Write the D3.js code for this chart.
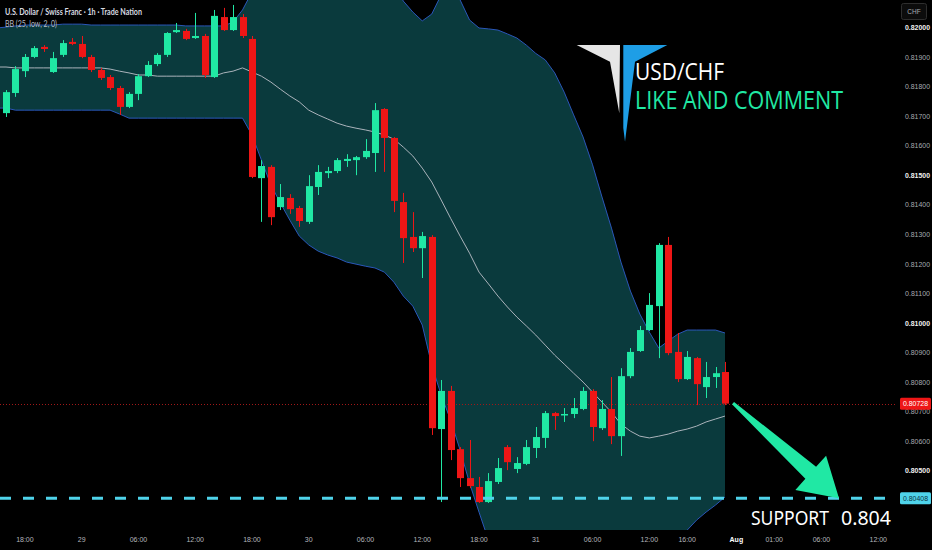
<!DOCTYPE html>
<html><head><meta charset="utf-8">
<script src="https://cdn.jsdelivr.net/npm/d3@7"></script>
<style>html,body{margin:0;padding:0;background:#000;overflow:hidden}</style>
</head><body>
<svg id="c" width="932" height="550"></svg>
<script>
// ---- Data (USD/CHF 1h candles) ----
const candleOpen  = [0.81711,0.81779,0.81853,0.81901,0.81935,0.81850,0.81908,0.81952,0.81945,0.81901,0.81857,0.81833,0.81796,0.81732,0.81776,0.81836,0.81877,0.81908,0.81985,0.81989,0.81965,0.81972,0.81833,0.82036,0.81992,0.82036,0.81962,0.81491,0.81529,0.81393,0.81424,0.81390,0.81343,0.81461,0.81508,0.81515,0.81549,0.81552,0.81562,0.81576,0.81725,0.81627,0.81410,0.81292,0.81254,0.81292,0.80642,0.80771,0.80574,0.80476,0.80446,0.80395,0.80463,0.80581,0.80507,0.80524,0.80578,0.80612,0.80696,0.80689,0.80693,0.80710,0.80771,0.80645,0.80710,0.80618,0.80821,0.80906,0.80977,0.81058,0.81265,0.80903,0.80811,0.80882,0.80784,0.80818,0.80835];
const candleHigh  = [0.81789,0.81870,0.81911,0.81938,0.81941,0.81918,0.81958,0.81965,0.81972,0.81908,0.81864,0.81840,0.81803,0.81782,0.81843,0.81887,0.81914,0.81985,0.82016,0.81996,0.82050,0.81979,0.82060,0.82067,0.82077,0.82046,0.81972,0.81552,0.81535,0.81471,0.81437,0.81397,0.81501,0.81535,0.81529,0.81559,0.81572,0.81566,0.81623,0.81745,0.81728,0.81630,0.81441,0.81376,0.81309,0.81298,0.80808,0.80788,0.80581,0.80605,0.80480,0.80493,0.80544,0.80588,0.80547,0.80605,0.80649,0.80703,0.80700,0.80713,0.80747,0.80784,0.80777,0.80740,0.80818,0.80848,0.80916,0.80991,0.81102,0.81271,0.81292,0.80967,0.80906,0.80886,0.80869,0.80852,0.80869];
const candleLow   = [0.81698,0.81766,0.81833,0.81897,0.81918,0.81847,0.81901,0.81941,0.81897,0.81850,0.81823,0.81789,0.81705,0.81728,0.81755,0.81833,0.81870,0.81901,0.81982,0.81958,0.81962,0.81830,0.81830,0.81989,0.81989,0.81965,0.81491,0.81343,0.81332,0.81383,0.81370,0.81326,0.81336,0.81434,0.81491,0.81508,0.81529,0.81501,0.81556,0.81512,0.81512,0.81376,0.81204,0.81241,0.81153,0.80622,0.80395,0.80537,0.80446,0.80442,0.80392,0.80392,0.80456,0.80503,0.80493,0.80520,0.80544,0.80578,0.80639,0.80666,0.80679,0.80706,0.80601,0.80639,0.80591,0.80551,0.80814,0.80903,0.80974,0.80882,0.80892,0.80801,0.80808,0.80723,0.80747,0.80781,0.80723];
const candleClose = [0.81782,0.81860,0.81901,0.81931,0.81928,0.81897,0.81948,0.81945,0.81901,0.81857,0.81830,0.81796,0.81732,0.81776,0.81836,0.81874,0.81908,0.81982,0.81992,0.81962,0.81972,0.81840,0.82040,0.81992,0.82036,0.81972,0.81495,0.81532,0.81359,0.81427,0.81386,0.81346,0.81464,0.81512,0.81515,0.81552,0.81556,0.81562,0.81583,0.81721,0.81627,0.81414,0.81288,0.81254,0.81295,0.80645,0.80771,0.80571,0.80476,0.80449,0.80395,0.80466,0.80510,0.80530,0.80527,0.80581,0.80615,0.80696,0.80686,0.80693,0.80713,0.80771,0.80649,0.80710,0.80618,0.80821,0.80903,0.80977,0.81062,0.81265,0.80899,0.80811,0.80886,0.80794,0.80818,0.80831,0.80728];

// Bollinger Bands (25, low, 2), starting one bar before the first visible candle
const bbFirstIndex = -1;
const bbUpper = [0.81999,0.82002,0.82006,0.82009,0.82009,0.82009,0.82009,0.82012,0.82012,0.82012,0.82009,0.82009,0.82009,0.82009,0.82009,0.82009,0.82009,0.82009,0.82009,0.82009,0.82006,0.82006,0.82006,0.82006,0.82006,0.82019,0.82060,0.82121,0.82178,0.82229,0.82263,0.82280,0.82280,0.82280,0.82280,0.82280,0.82280,0.82280,0.82280,0.82280,0.82263,0.82229,0.82144,0.82090,0.82053,0.82023,0.82046,0.82111,0.82128,0.82094,0.82026,0.81999,0.81996,0.81992,0.81979,0.81965,0.81941,0.81913,0.81891,0.81847,0.81782,0.81705,0.81630,0.81536,0.81427,0.81322,0.81207,0.81109,0.81031,0.80970,0.80916,0.80940,0.80963,0.80977,0.80977,0.80977,0.80977,0.80967];
const bbBasis = [0.81867,0.81867,0.81864,0.81864,0.81864,0.81864,0.81864,0.81864,0.81864,0.81864,0.81864,0.81864,0.81860,0.81853,0.81847,0.81840,0.81840,0.81836,0.81836,0.81836,0.81836,0.81836,0.81836,0.81836,0.81847,0.81853,0.81864,0.81850,0.81836,0.81816,0.81792,0.81769,0.81749,0.81721,0.81705,0.81691,0.81677,0.81667,0.81660,0.81654,0.81647,0.81637,0.81623,0.81596,0.81566,0.81525,0.81478,0.81417,0.81355,0.81295,0.81237,0.81173,0.81133,0.81092,0.81055,0.81021,0.80991,0.80960,0.80926,0.80892,0.80862,0.80831,0.80801,0.80767,0.80733,0.80699,0.80659,0.80635,0.80618,0.80612,0.80618,0.80625,0.80635,0.80642,0.80652,0.80666,0.80676,0.80686];
const bbLower = [0.81728,0.81728,0.81721,0.81721,0.81721,0.81721,0.81721,0.81721,0.81721,0.81721,0.81721,0.81721,0.81721,0.81708,0.81694,0.81694,0.81694,0.81694,0.81694,0.81694,0.81694,0.81694,0.81694,0.81694,0.81694,0.81694,0.81694,0.81637,0.81552,0.81468,0.81407,0.81349,0.81295,0.81265,0.81244,0.81231,0.81221,0.81207,0.81200,0.81193,0.81187,0.81173,0.81139,0.81092,0.81058,0.80994,0.80859,0.80757,0.80672,0.80571,0.80459,0.80361,0.80266,0.80199,0.80199,0.80199,0.80199,0.80199,0.80199,0.80199,0.80199,0.80199,0.80199,0.80199,0.80199,0.80199,0.80199,0.80199,0.80199,0.80199,0.80199,0.80199,0.80249,0.80300,0.80334,0.80361,0.80385,0.80412];

const priceTicks = [0.820,0.819,0.818,0.817,0.816,0.815,0.814,0.813,0.812,0.811,0.810,0.809,0.808,0.807,0.806,0.805];
const majorPriceTicks = [0.820,0.815,0.810,0.805];
const timeTickIndex = [2,8,14,20,26,32,38,44,50,56,62,68,72,77.2,81.2,86.2,92.2];
const timeTickLabels = ["18:00","29","06:00","12:00","18:00","30","06:00","12:00","18:00","31","06:00","12:00","16:00","Aug","01:00","06:00","12:00"];
const lastPrice = 0.80728;
const supportPrice = 0.80408;
const arrowTail = {i:76.85, p:0.80730};
const arrowTip  = {i:88.05, p:0.80408};

// ---- Layout ----
const W=932, H=550, plotR=897, plotB=530;
const GREEN="#20e8a4", RED="#ee1616", BAND="#0a3a3d", BANDLINE="#2a56b8", CYAN="#4fd3ea";
const svg=d3.select('#c');
svg.append('rect').attr('width',W).attr('height',H).attr('fill','#000');
svg.append('defs').append('clipPath').attr('id','plot')
  .append('rect').attr('x',0).attr('y',0).attr('width',plotR).attr('height',plotB);

const x=d3.scaleLinear().domain([0,76]).range([6,725]);
const y=d3.scaleLinear().domain([0.80,0.82]).range([618.8,27.7]);

const g=svg.append('g').attr('clip-path','url(#plot)');

const bb=bbUpper.map((u,k)=>({i:k+bbFirstIndex,u:u,m:bbBasis[k],l:bbLower[k]}));
g.append('path').datum(bb)
  .attr('d',d3.area().x(d=>x(d.i)).y0(d=>y(d.l)).y1(d=>y(d.u)))
  .attr('fill',BAND);
[['u',BANDLINE],['l',BANDLINE],['m','#aab3bb']].forEach(([k,col])=>{
  g.append('path').datum(bb)
    .attr('d',d3.line().x(d=>x(d.i)).y(d=>y(d[k])))
    .attr('fill','none').attr('stroke',col).attr('stroke-width',1);
});

// last price dotted line
g.append('line').attr('x1',0).attr('x2',plotR)
  .attr('y1',Math.round(y(lastPrice))+0.5).attr('y2',Math.round(y(lastPrice))+0.5)
  .attr('stroke','#a01818').attr('stroke-dasharray','1,2');

// candles
const candles=candleOpen.map((o,i)=>({i,o,h:candleHigh[i],l:candleLow[i],c:candleClose[i]}));
const cg=g.append('g');
cg.selectAll('line.w').data(candles).join('line').attr('class','w')
  .attr('x1',d=>Math.round(x(d.i))+0.5).attr('x2',d=>Math.round(x(d.i))+0.5)
  .attr('y1',d=>y(d.h)).attr('y2',d=>y(d.l))
  .attr('stroke',d=>d.c>=d.o?GREEN:RED).attr('stroke-width',1);
cg.selectAll('rect.b').data(candles).join('rect').attr('class','b')
  .attr('x',d=>Math.round(x(d.i))-3).attr('width',7)
  .attr('y',d=>y(Math.max(d.o,d.c)))
  .attr('height',d=>Math.max(1.5,Math.abs(y(d.o)-y(d.c))))
  .attr('fill',d=>d.c>=d.o?GREEN:RED);

// support dashed line
g.append('line').attr('x1',0).attr('x2',plotR)
  .attr('y1',y(supportPrice)).attr('y2',y(supportPrice))
  .attr('stroke',CYAN).attr('stroke-width',3).attr('stroke-dasharray','11,12');

// arrow
(function(){
  const T=[x(arrowTail.i),y(arrowTail.p)], P=[x(arrowTip.i),y(arrowTip.p)];
  const dx=P[0]-T[0], dy=P[1]-T[1], L=Math.hypot(dx,dy);
  const u=[dx/L,dy/L], n=[-u[1],u[0]];
  const B=[P[0]-38*u[0],P[1]-38*u[1]];
  const pt=(b,s)=>[b[0]+s*n[0],b[1]+s*n[1]];
  const pts=[pt(T,-1.5),pt(B,-8),pt(B,-23),P,pt(B,23),pt(B,8),pt(T,1.5)];
  svg.append('polygon').attr('points',pts.map(p=>p.join(',')).join(' ')).attr('fill',GREEN);
})();

// header
svg.append('text').attr('x',5).attr('y',15).attr('fill','#d8dbe0')
  .attr('font-family','Lato, sans-serif').attr('font-weight','bold').attr('font-size',8.5)
  .attr('textLength',137).attr('lengthAdjust','spacingAndGlyphs')
  .text('U.S. Dollar / Swiss Franc · 1h · Trade Nation');
svg.append('text').attr('x',5).attr('y',27).attr('fill','#b8bcc4')
  .attr('font-family','Lato, sans-serif').attr('font-size',8.5)
  .attr('textLength',52).attr('lengthAdjust','spacingAndGlyphs')
  .text('BB (25, low, 2, 0)');

// logo
svg.append('polygon').attr('points','576.7,45 620,45 619.3,113.3 610,61.7').attr('fill','#e6e6e6');
svg.append('polygon').attr('points','623.3,45 667.3,45 635,61.7 625,141.7 623.3,128').attr('fill','#1e9ee6');
svg.append('text').attr('x',635).attr('y',80).attr('fill','#ffffff')
  .attr('font-family','Open Sans, sans-serif').attr('font-size',24)
  .attr('textLength',89).attr('lengthAdjust','spacingAndGlyphs').text('USD/CHF');
svg.append('text').attr('x',635).attr('y',108.5).attr('fill',GREEN)
  .attr('font-family','Open Sans, sans-serif').attr('font-size',26)
  .attr('textLength',208).attr('lengthAdjust','spacingAndGlyphs').text('LIKE AND COMMENT');

// support label
svg.append('text').attr('x',751).attr('y',524.5).attr('fill','#ffffff')
  .attr('font-family','Noto Sans, sans-serif').attr('font-size',20.5)
  .attr('textLength',78).attr('lengthAdjust','spacingAndGlyphs').text('SUPPORT');
svg.append('text').attr('x',841).attr('y',524.5).attr('fill','#ffffff')
  .attr('font-family','Noto Sans, sans-serif').attr('font-size',20.5)
  .attr('textLength',50).attr('lengthAdjust','spacingAndGlyphs').text(supportPrice.toFixed(3));

// price axis
const ax=svg.append('g');
ax.selectAll('text').data(priceTicks).join('text')
  .attr('x',905).attr('y',d=>y(d)).attr('dy','0.35em')
  .attr('font-family','Liberation Sans, Arial, sans-serif').attr('font-size',7)
  .attr('fill',d=>majorPriceTicks.some(m=>Math.abs(m-d)<1e-9)?'#f0f0f0':'#a9abb0')
  .attr('font-weight',d=>majorPriceTicks.some(m=>Math.abs(m-d)<1e-9)?'bold':'normal')
  .attr('textLength',25).attr('lengthAdjust','spacingAndGlyphs')
  .text(d=>d3.format('.5f')(d));
// currency box
svg.append('rect').attr('x',901.5).attr('y',3.5).attr('width',25).attr('height',16).attr('rx',2)
  .attr('fill','#0c0c0c').attr('stroke','#2e2e2e');
svg.append('text').attr('x',914).attr('y',12).attr('dy','0.35em').attr('text-anchor','middle')
  .attr('font-family','Liberation Sans, Arial, sans-serif').attr('font-size',6.5).attr('fill','#a9abb0').text('CHF');
// price tags
[[lastPrice,RED,'#ffffff'],[supportPrice,CYAN,'#0b3340']].forEach(([p,bg,fg])=>{
  const yy=y(p);
  svg.append('rect').attr('x',900).attr('y',yy-6).attr('width',31).attr('height',12).attr('rx',1.5).attr('fill',bg);
  svg.append('text').attr('x',915.5).attr('y',yy).attr('dy','0.35em').attr('text-anchor','middle')
    .attr('font-family','Liberation Sans, Arial, sans-serif').attr('font-size',7).attr('fill',fg)
    .attr('textLength',25).attr('lengthAdjust','spacingAndGlyphs').text(d3.format('.5f')(p));
});

// time axis
const tx=svg.append('g');
tx.selectAll('text').data(timeTickIndex).join('text')
  .attr('x',d=>x(d)).attr('y',540).attr('dy','0.35em').attr('text-anchor','middle')
  .attr('font-family','Liberation Sans, Arial, sans-serif').attr('font-size',7)
  .attr('fill',(d,k)=>timeTickLabels[k]==='Aug'?'#ffffff':'#b4b6bb')
  .attr('font-weight',(d,k)=>timeTickLabels[k]==='Aug'?'bold':'normal')
  .text((d,k)=>timeTickLabels[k]);
</script>
</body></html>
